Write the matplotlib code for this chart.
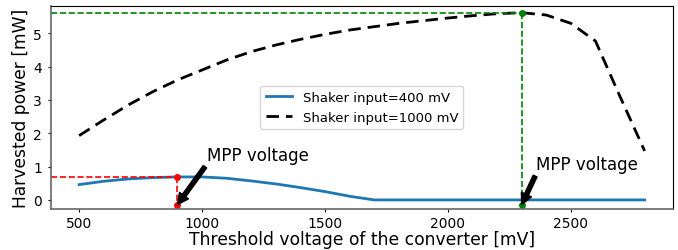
import matplotlib
matplotlib.use("Agg")
import matplotlib.pyplot as plt

voltage = [500, 600, 700, 800, 900, 1000, 1100, 1200, 1300, 1400, 1500, 1600,
           1700, 1800, 1900, 2000, 2100, 2200, 2300, 2400, 2500, 2600, 2700, 2800]
power_400 = [0.46, 0.56, 0.63, 0.67, 0.69, 0.69, 0.65, 0.57, 0.48, 0.37, 0.25, 0.11,
             0.0, 0.0, 0.0, 0.0, 0.0, 0.0, 0.0, 0.0, 0.0, 0.0, 0.0, 0.0]
power_1000 = [1.93, 2.40, 2.85, 3.25, 3.60, 3.90, 4.20, 4.45, 4.65, 4.82, 4.97, 5.10,
              5.20, 5.30, 5.38, 5.46, 5.53, 5.59, 5.62, 5.55, 5.30, 4.77, 3.10, 1.47]
labels = ["Shaker input=400 mV", "Shaker input=1000 mV"]
mpp_400 = (900, 0.70)
mpp_1000 = (2300, 5.62)
marker_bottom = -0.14

fig = plt.figure(figsize=(6.78, 2.51), dpi=100)
ax = fig.add_axes([0.075, 0.165, 0.9175, 0.807])

ax.plot(voltage, power_400, color="#1f77b4", lw=2, label=labels[0])
ax.plot(voltage, power_1000, color="black", lw=2, ls=(0, (4.5, 2.5)), label=labels[1])

xmin, xmax = 385, 2915
ax.set_xlim(xmin, xmax)
ax.set_ylim(-0.26, 5.82)

# MPP guides
ax.plot([xmin, mpp_400[0]], [mpp_400[1], mpp_400[1]], color="red", ls="--", lw=1.2)
ax.plot([mpp_400[0], mpp_400[0]], [mpp_400[1], marker_bottom], color="red", ls="--", lw=1.2,
        marker="o", ms=4)
ax.plot([xmin, mpp_1000[0]], [mpp_1000[1], mpp_1000[1]], color="green", ls="--", lw=1.2)
ax.plot([mpp_1000[0], mpp_1000[0]], [mpp_1000[1], marker_bottom], color="green", ls="--", lw=1.2,
        marker="o", ms=4)

ax.annotate("MPP voltage", xy=(mpp_400[0], marker_bottom), xytext=(1020, 1.2),
            fontsize=12, arrowprops=dict(facecolor="black", edgecolor="black",
                                         width=3, headwidth=8, headlength=8, shrink=0.0))
ax.annotate("MPP voltage", xy=(mpp_1000[0], marker_bottom), xytext=(2360, 0.92),
            fontsize=12, arrowprops=dict(facecolor="black", edgecolor="black",
                                         width=3, headwidth=8, headlength=8, shrink=0.0))

ax.set_xticks([500, 1000, 1500, 2000, 2500])
ax.set_yticks([0, 1, 2, 3, 4, 5])
ax.tick_params(labelsize=10, length=2)
ax.tick_params(axis="x", pad=3)
ax.tick_params(axis="y", pad=4.5)
ax.set_xlabel("Threshold voltage of the converter [mV]", fontsize=12.3, labelpad=0.5)
ax.set_ylabel("Harvested power [mW]", fontsize=12.3, labelpad=2)
for s in ["left", "bottom"]:
    ax.spines[s].set_color("#666666")
    ax.spines[s].set_linewidth(1.2)
ax.legend(loc="center", fontsize=9.5)

fig.savefig("out.png", dpi=100)
